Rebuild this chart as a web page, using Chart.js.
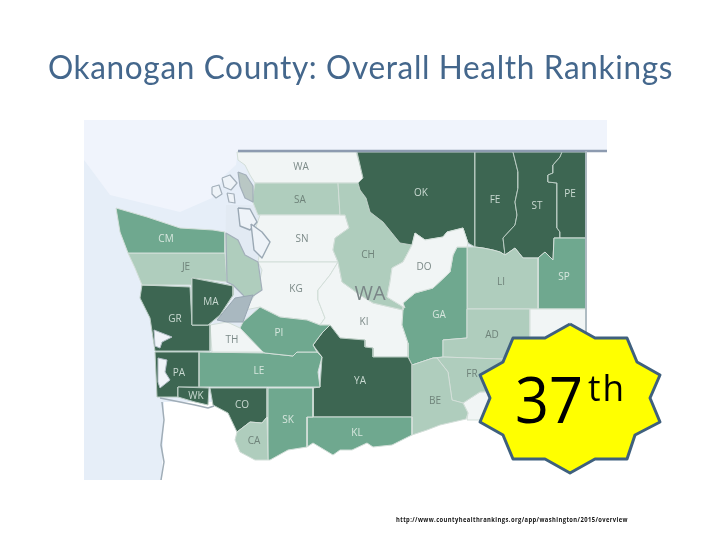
<!DOCTYPE html>
<html><head><meta charset="utf-8">
<style>html,body{margin:0;padding:0;background:#fff}canvas{display:block}</style>
<script src="https://cdn.jsdelivr.net/npm/chart.js@4"></script></head>
<body><canvas id="c" width="720" height="540"></canvas>
<script>
// Map geometry in map units (one unit = one reference pixel); each ring is [x, y, x, y, ...]
const waterFrame=[84,120,607,120,607,480,84,480];
const canadaRing=[84,120,607,120,607,151,238,151,236,165,225,175,212,198,180,212,110,195,90,168,84,160];
const oregonIdaho=[586,151,607,151,607,480,162,480,164,402,230,402,586,402];
const soundRing=[226,205,262,205,264,330,212,330,225,270];

const countyCodes=["WA","SA","SN","KG","KI","CH","OK","FE","ST","PE","SP","LI","GA","DO","AD","WH","FR","BE","YA","KL","SK","CO","CA","LE","TH","PI","GR","MA","JE","CM","PA","WK"];
const countyTier=[0,1,0,0,0,1,3,3,3,3,2,1,2,0,1,0,1,1,3,2,2,3,1,2,0,2,3,3,1,2,3,3];
const labelX=[301,300,302,296,364,368,421,495,537,570,564,501,439,424,492,0,472,435,360,357,288,242,254,259,232,279,175,211,186,166,179,196];
const labelY=[166,199,238,288,321,254,192,199,205,193,276,281,314,266,334,0,373,400,380,432,419,404,440,370,339,332,318,301,266,238,372,395];
const rings=[
[237,152,356,152,360,165,363,178,358,183,255,183,250,175,245,165,238,160],
[255,183,338,183,340,215,258,215,252,200],
[260,215,345,215,349,228,335,238,333,250,338,262,258,262,262,240,255,230],
[258,262,338,262,330,275,318,290,318,300,325,318,320,325,307,320,280,317,260,307,245,310,258,290,262,270],
[338,262,342,282,360,295,373,303,403,310,402,325,408,343,408,357,373,357,373,348,365,347,365,340,340,338,330,325,320,325,325,318,318,300,318,290,330,275],
[338,183,358,183,360,190,366,198,370,212,383,222,400,243,412,245,403,262,392,268,390,282,387,297,405,308,403,310,373,303,360,295,342,282,338,262,333,250,335,238,349,228,345,215,340,215],
[357,152,475,152,475,247,468,243,463,228,455,230,447,232,443,237,425,240,415,233,412,245,400,243,383,222,370,212,366,198,360,190,358,183,363,178,360,165],
[475,152,513,152,518,172,518,188,515,202,517,215,515,225,503,238,505,255,500,252,493,250,483,248,475,247],
[513,152,562,152,560,157,553,165,553,173,548,175,548,182,557,183,557,228,560,232,560,238,554,238,553,260,545,252,538,258,523,258,515,248,505,255,503,238,515,225,517,215,515,202,518,188,518,172],
[562,152,586,152,586,238,560,238,560,232,557,228,557,183,548,182,548,175,553,173,553,165,560,157],
[554,238,586,238,586,309,538,309,538,258,545,252,553,260],
[467,247,475,247,483,248,493,250,500,252,505,255,515,248,523,258,538,258,538,309,467,309],
[467,247,457,247,453,255,450,272,433,288,415,293,403,303,403,310,402,325,408,343,408,357,412,365,433,358,443,357,443,340,467,338],
[412,245,415,233,425,240,443,237,447,232,455,230,463,228,468,243,467,247,457,247,453,255,450,272,433,288,415,293,403,303,405,308,387,297,390,282,392,268,403,262],
[467,309,530,309,530,360,443,357,443,340,467,338],
[530,309,586,309,586,420,467,420,468,413,463,403,480,392,530,390,530,340],
[443,357,530,360,530,390,480,392,463,403,452,400,448,372,437,358],
[412,365,433,358,437,358,448,372,452,400,463,403,468,413,466,419,440,425,427,430,412,435],
[330,325,340,338,365,340,365,347,373,348,373,357,408,357,412,365,412,417,313,417,313,388,320,387,322,357,313,345,322,333],
[307,417,412,417,412,435,392,445,373,447,367,443,352,450,340,450,333,455,313,443,307,447],
[268,388,313,388,313,417,307,417,307,447,288,450,270,460,268,460],
[210,388,267,388,267,417,262,423,250,422,237,432,228,413,213,405],
[237,432,250,422,262,423,267,417,268,460,255,460,240,452,235,440],
[199,352,265,353,293,356,297,352,317,352,322,357,318,372,320,387,199,387],
[210,325,227,322,240,328,263,352,212,352],
[240,328,243,322,260,307,280,317,307,320,320,325,330,325,322,333,313,345,317,352,297,352,293,356,265,353,263,352],
[142,285,190,287,192,325,210,325,210,351,155,351,150,318,140,298],
[192,278,233,286,233,295,220,315,208,325,192,325],
[128,253,225,253,227,282,192,278,192,285,142,285,135,268],
[116,208,147,217,180,228,213,230,225,232,225,253,128,253,120,232],
[155,352,199,352,199,387,178,387,178,397,157,397],
[178,387,209,388,208,405,195,402,178,397]
];
const estuaries=[
[154,330,172,337,162,342,160,348,155,346],
[158,358,167,360,165,372,170,380,160,388,158,382]
];
const sanJuanIslands=[
[212,187,219,185,222,194,216,198,212,194],
[222,178,230,175,237,183,231,190,224,187],
[227,193,234,194,235,203,229,202]
];
const skagitShore=[238,172,246,175,253,186,253,202,245,198,240,186];
const islandCounty=[
[238,208,250,209,257,222,250,230,240,226],
[251,224,262,232,270,242,262,258,254,250]
];
const kitsap=[226,233,238,240,245,255,258,262,262,290,247,300,243,295,233,285,227,282];
const narrows=[217,320,235,298,253,295,243,322,227,322];
const northBorder=[238,151,607,151];
const eastBorder=[586,151,586,420];
const coastLine=[162,402,164,420,161,445,164,462,161,480];
const riverShore=[160,398,175,401,195,405,208,408,214,406];
const badgeRing=[570,324,595,338,627,338,637,362,660,375,650,398,660,422,635,435,627,459,595,459,570,473,545,459,513,459,503,435,480,422,490,398,480,375,503,362,513,338,545,338];

const tierFill=["#f1f5f5","#afcdbd","#6fa88f","#3d6652"];
const tierLabel=["#7c8a88","#6f837a","#d7e6de","#c9d9d1"];
const titleText="Okanogan County: Overall Health Rankings";
const sourceText="http://www.countyhealthrankings.org/app/washington/2015/overview";
const stateLabel="WA";
const rankNumber="37";
const rankSuffix="th";

const toPts=r=>{const p=[];for(let i=0;i<r.length;i+=2)p.push({x:r[i],y:r[i+1]});p.push({x:r[0],y:r[1]});return p;};
const seq=[];
const shape=(ring,fill,stroke,w)=>seq.push({data:toPts(ring),backgroundColor:fill,borderColor:stroke,borderWidth:w,fill:'shape'});
const stroke=(ring,color,w)=>{const p=toPts(ring);p.pop();seq.push({data:p,borderColor:color,borderWidth:w,fill:false});};

shape(waterFrame,"#e6eef8","#e6eef8",0);
shape(canadaRing,"#f0f4fc","#f0f4fc",0);
shape(oregonIdaho,"#ffffff","#ffffff",0);
shape(soundRing,"#e2eaf3","#e2eaf3",0);
rings.forEach((r,i)=>shape(r,tierFill[countyTier[i]],countyTier[i]===3?"#b9cbc2":"#d3dfd9",1));
estuaries.forEach(r=>shape(r,"#f0f4f9","#b4c0c8",1));
sanJuanIslands.forEach(r=>shape(r,"#eef3f8","#a3afba",1.2));
shape(skagitShore,"#b9c7c4","#a3afba",1.2);
islandCounty.forEach(r=>shape(r,"#eef3f8","#9aa8b4",1.4));
shape(kitsap,"#afcdbd","#a3afba",1.2);
shape(narrows,"#a9b8c0","#98a6b2",1);
shape(rings[27],tierFill[3],"#b9cbc2",1);
stroke(northBorder,"#8d9bb0",2.5);
stroke(eastBorder,"#a9b6bf",1);
stroke(coastLine,"#a0adb7",1.5);
stroke(riverShore,"#a0adb7",1.5);
shape(badgeRing,"#ffff00","#3f607e",3);

const n=seq.length;
seq.forEach((d,i)=>{d.order=n-i;d.showLine=true;d.pointRadius=0;d.pointHoverRadius=0;d.tension=0;d.borderJoinStyle='round';});

const textPlugin={id:'mapText',afterDatasetsDraw(chart){
  const {ctx,scales:{x,y}}=chart;
  const put=(t,px,py,font,color,align,maxW)=>{ctx.font=font;ctx.fillStyle=color;ctx.textAlign=align;ctx.textBaseline='alphabetic';
    if(maxW)ctx.fillText(t,x.getPixelForValue(px),y.getPixelForValue(py),maxW);else ctx.fillText(t,x.getPixelForValue(px),y.getPixelForValue(py));};
  ctx.save();
  countyCodes.forEach((c,i)=>{if(labelX[i])put(c,labelX[i],labelY[i]+3.5,'10px "Open Sans"',tierLabel[countyTier[i]],'center');});
  put(stateLabel,370,300,'20px "Open Sans"','#7a8587','center');
  ctx.letterSpacing='0.65px';
  put(titleText,48,79,'32px Lato','#44678c','left',625);
  ctx.letterSpacing='0px';
  put(rankNumber,515,423,'64px "Open Sans"','#000000','left',68);
  ctx.letterSpacing='2px';
  put(rankSuffix,588,401,'36px "Open Sans"','#000000','left',38);
  ctx.letterSpacing='0.5px';
  put(sourceText,396,522,'bold 7px "Open Sans"','#111111','left',232);
  ctx.restore();
}};

new Chart(document.getElementById('c'),{
  type:'scatter',
  data:{datasets:seq},
  options:{responsive:false,animation:false,events:[],
    layout:{padding:0},
    scales:{x:{type:'linear',min:0,max:720,display:false},y:{type:'linear',min:0,max:540,reverse:true,display:false}},
    plugins:{legend:{display:false},tooltip:{enabled:false},title:{display:false},filler:{propagate:false}},
    clip:false
  },
  plugins:[textPlugin]
});
</script></body></html>
